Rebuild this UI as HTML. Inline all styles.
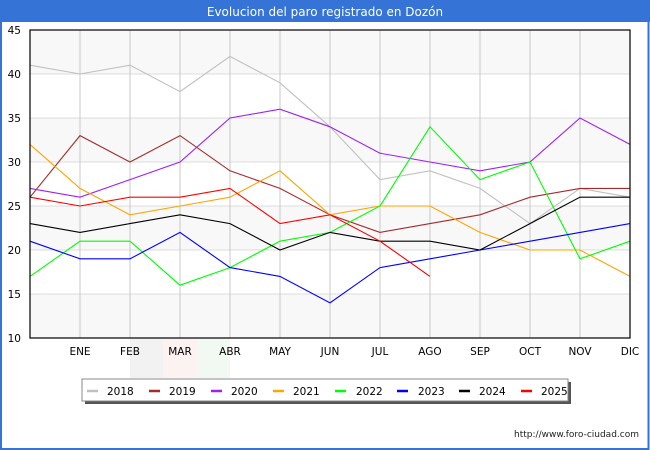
<!DOCTYPE html>
<html><head><meta charset="utf-8"><style>
html,body{margin:0;padding:0;background:#fff;}
svg{display:block;font-family:"DejaVu Sans","Liberation Sans",sans-serif;}
</style></head><body>
<svg width="650" height="450" viewBox="0 0 650 450" xmlns="http://www.w3.org/2000/svg">
<rect x="0" y="0" width="650" height="450" fill="#fff"/>
<!-- watermark -->
<rect x="130" y="338" width="33" height="40" fill="#f2f2f2"/>
<rect x="163" y="338" width="34" height="40" fill="#fdf2f2"/>
<rect x="197" y="338" width="33" height="40" fill="#f2f8f2"/>
<!-- bands -->
<rect x="30" y="30" width="600" height="44" fill="#f8f8f8"/>
<rect x="30" y="118" width="600" height="44" fill="#f8f8f8"/>
<rect x="30" y="206" width="600" height="44" fill="#f8f8f8"/>
<rect x="30" y="294" width="600" height="44" fill="#f8f8f8"/>
<!-- grid -->
<g stroke="#dddddd" stroke-width="1">
<line x1="30" y1="74" x2="630" y2="74"/><line x1="30" y1="118" x2="630" y2="118"/>
<line x1="30" y1="162" x2="630" y2="162"/><line x1="30" y1="206" x2="630" y2="206"/>
<line x1="30" y1="250" x2="630" y2="250"/><line x1="30" y1="294" x2="630" y2="294"/>
</g>
<g stroke="#c8c8c8" stroke-width="1">
<line x1="80" y1="30" x2="80" y2="338"/><line x1="130" y1="30" x2="130" y2="338"/>
<line x1="180" y1="30" x2="180" y2="338"/><line x1="230" y1="30" x2="230" y2="338"/>
<line x1="280" y1="30" x2="280" y2="338"/><line x1="330" y1="30" x2="330" y2="338"/>
<line x1="380" y1="30" x2="380" y2="338"/><line x1="430" y1="30" x2="430" y2="338"/>
<line x1="480" y1="30" x2="480" y2="338"/><line x1="530" y1="30" x2="530" y2="338"/>
<line x1="580" y1="30" x2="580" y2="338"/>
</g>
<!-- series -->
<g fill="none" stroke-width="1.1" stroke-linejoin="miter">
<polyline stroke="#c0c0c0" points="30,65.2 80,74 130,65.2 180,91.6 230,56.4 280,82.8 330,126.8 380,179.6 430,170.8 480,188.4 530,223.6 580,188.4 630,197.2"/>
<polyline stroke="#a52a2a" points="30,197.2 80,135.6 130,162 180,135.6 230,170.8 280,188.4 330,214.8 380,232.4 430,223.6 480,214.8 530,197.2 580,188.4 630,188.4"/>
<polyline stroke="#a020f0" points="30,188.4 80,197.2 130,179.6 180,162 230,118 280,109.2 330,126.8 380,153.2 430,162 480,170.8 530,162 580,118 630,144.4"/>
<polyline stroke="#ffa500" points="30,144.4 80,188.4 130,214.8 180,206 230,197.2 280,170.8 330,214.8 380,206 430,206 480,232.4 530,250 580,250 630,276.4"/>
<polyline stroke="#00ff00" points="30,276.4 80,241.2 130,241.2 180,285.2 230,267.6 280,241.2 330,232.4 380,206 430,126.8 480,179.6 530,162 580,258.8 630,241.2"/>
<polyline stroke="#0000ff" points="30,241.2 80,258.8 130,258.8 180,232.4 230,267.6 280,276.4 330,302.8 380,267.6 430,258.8 480,250 530,241.2 580,232.4 630,223.6"/>
<polyline stroke="#000000" points="30,223.6 80,232.4 130,223.6 180,214.8 230,223.6 280,250 330,232.4 380,241.2 430,241.2 480,250 530,223.6 580,197.2 630,197.2"/>
<polyline stroke="#ff0000" points="30,197.2 80,206 130,197.2 180,197.2 230,188.4 280,223.6 330,214.8 380,241.2 430,276.4"/>
</g>
<!-- frame -->
<rect x="30" y="30" width="600" height="308" fill="none" stroke="#000" stroke-width="1.2"/>
<!-- y labels -->
<g font-size="10.5" fill="#000" text-anchor="end">
<text x="21" y="34">45</text><text x="21" y="78">40</text><text x="21" y="122">35</text>
<text x="21" y="166">30</text><text x="21" y="210">25</text><text x="21" y="254">20</text>
<text x="21" y="298">15</text><text x="21" y="342">10</text>
</g>
<!-- x labels -->
<g font-size="10.5" fill="#000" text-anchor="middle">
<text x="80" y="355">ENE</text><text x="130" y="355">FEB</text><text x="180" y="355">MAR</text>
<text x="230" y="355">ABR</text><text x="280" y="355">MAY</text><text x="330" y="355">JUN</text>
<text x="380" y="355">JUL</text><text x="430" y="355">AGO</text><text x="480" y="355">SEP</text>
<text x="530" y="355">OCT</text><text x="580" y="355">NOV</text><text x="630" y="355">DIC</text>
</g>
<!-- legend -->
<rect x="85" y="382" width="486" height="22" fill="#555"/>
<rect x="82" y="379" width="486" height="22" fill="#fff" stroke="#888" stroke-width="1"/>
<g stroke-width="2.5">
<line x1="87" y1="391" x2="98" y2="391" stroke="#c0c0c0"/>
<line x1="149" y1="391" x2="160" y2="391" stroke="#a52a2a"/>
<line x1="211" y1="391" x2="222" y2="391" stroke="#a020f0"/>
<line x1="273" y1="391" x2="284" y2="391" stroke="#ffa500"/>
<line x1="335" y1="391" x2="346" y2="391" stroke="#00ff00"/>
<line x1="397" y1="391" x2="408" y2="391" stroke="#0000ff"/>
<line x1="459" y1="391" x2="470" y2="391" stroke="#000000"/>
<line x1="521" y1="391" x2="532" y2="391" stroke="#ff0000"/>
</g>
<g font-size="10.5" fill="#000">
<text x="107" y="395">2018</text><text x="169" y="395">2019</text><text x="231" y="395">2020</text>
<text x="293" y="395">2021</text><text x="356" y="395">2022</text><text x="418" y="395">2023</text>
<text x="479" y="395">2024</text><text x="541" y="395">2025</text>
</g>
<text x="639" y="437" font-size="9" fill="#222" text-anchor="end">http://www.foro-ciudad.com</text>
<!-- title bar & border -->
<rect x="0" y="0" width="650" height="22" fill="#3673d6"/>
<text x="325" y="16" font-size="12" fill="#fff" text-anchor="middle">Evolucion del paro registrado en Dozón</text>
<rect x="1" y="1" width="647.5" height="448" fill="none" stroke="#3673d6" stroke-width="2"/>
</svg>
</body></html>
